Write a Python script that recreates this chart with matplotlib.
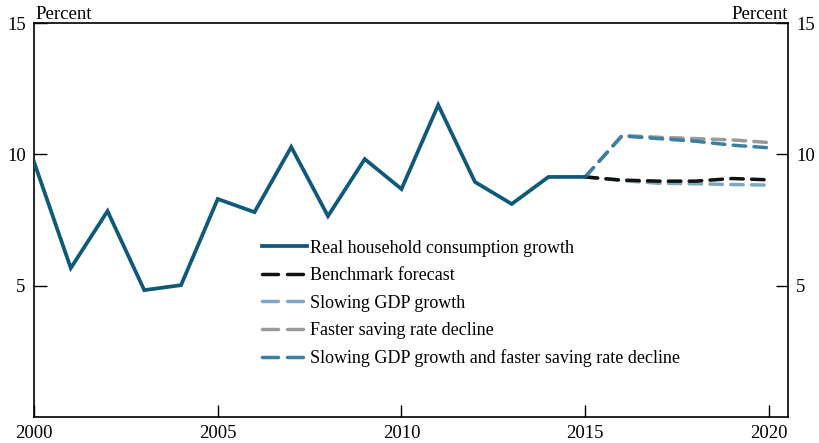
import matplotlib
matplotlib.use('Agg')
import matplotlib.pyplot as plt

plt.rcParams['font.family'] = ['Liberation Serif', 'DejaVu Serif']

years = list(range(2000, 2016))
consumption = [9.71, 5.67, 7.84, 4.83, 5.02, 8.30, 7.80, 10.28, 7.65, 9.82,
               8.68, 11.88, 8.95, 8.11, 9.14, 9.14]

fc_years = list(range(2015, 2021))
benchmark = [9.14, 9.02, 8.98, 8.98, 9.08, 9.03]
slow_gdp = [9.14, 9.00, 8.90, 8.88, 8.85, 8.83]
fast_saving = [9.14, 10.72, 10.65, 10.60, 10.55, 10.45]
slow_and_fast = [9.14, 10.70, 10.60, 10.50, 10.35, 10.25]

c_main = '#0e5a78'
c_bench = '#111111'
c_slow = '#7ea7c4'
c_fast = '#9a9a9a'
c_both = '#3b7fa1'

fig = plt.figure(figsize=(8.2, 4.43), dpi=100)
ax = fig.add_axes([0.0415, 0.0587, 0.9195, 0.8893])

dash = (3.6, 2.4)
lw = 2.5
l0, = ax.plot(years, consumption, color=c_main, lw=2.7, solid_joinstyle='miter',
              label='Real household consumption growth', zorder=5)
l1, = ax.plot(fc_years, benchmark, color=c_bench, lw=lw, dashes=dash, dash_capstyle='round',
              label='Benchmark forecast', zorder=4)
l2, = ax.plot(fc_years, slow_gdp, color=c_slow, lw=lw, dashes=dash, dash_capstyle='round',
              label='Slowing GDP growth', zorder=3)
l3, = ax.plot(fc_years, fast_saving, color=c_fast, lw=lw, dashes=dash, dash_capstyle='round',
              label='Faster saving rate decline', zorder=3)
l4, = ax.plot(fc_years, slow_and_fast, color=c_both, lw=lw, dashes=dash, dash_capstyle='round',
              label='Slowing GDP growth and faster saving rate decline', zorder=4)

ax.set_xlim(2000, 2020.52)
ax.set_ylim(0, 15)
ax.set_xticks([2000, 2005, 2010, 2015, 2020])
ax.set_yticks([5, 10, 15])
ax.tick_params(axis='both', direction='in', length=9, width=1, labelsize=13.5)
ax.tick_params(axis='y', right=True, labelright=True, pad=6)
ax.tick_params(axis='x', pad=6)
for s in ax.spines.values():
    s.set_linewidth(1.2)

fig.text(0.043, 0.958, 'Percent', fontsize=13.5, ha='left', va='baseline')
fig.text(0.961, 0.958, 'Percent', fontsize=13.5, ha='right', va='baseline')

leg = ax.legend(handles=[l0, l1, l2, l3, l4], loc='upper left',
                bbox_to_anchor=(0.302, 0.45), frameon=False, fontsize=13,
                handlelength=2.5, handletextpad=0.15, labelspacing=0.58,
                borderpad=0, borderaxespad=0)
# legend dashes: two long strokes per handle
for h in leg.get_lines()[1:]:
    h.set_dashes((4.6, 2.6))

fig.savefig('out.png', dpi=100)
